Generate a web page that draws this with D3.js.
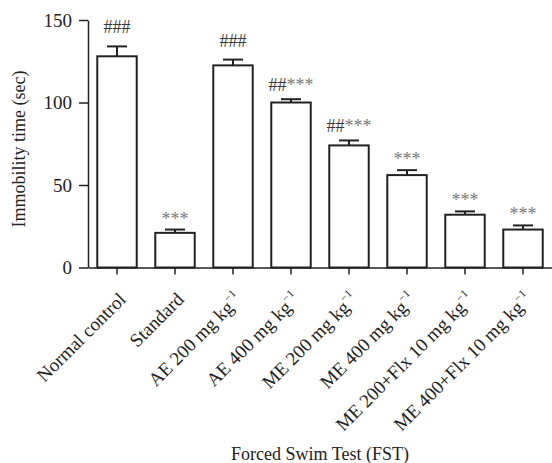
<!DOCTYPE html>
<html>
<head>
<meta charset="utf-8">
<script src="https://cdn.jsdelivr.net/npm/d3@7"></script>
<style>
  body { margin: 0; background: #fff; }
  text { font-family: "Liberation Serif", "Times New Roman", serif; }
</style>
</head>
<body>
<svg id="chart" width="552" height="463"></svg>
<script>
// groups on the x axis (sup = superscript after the name)
const groups = [
  { name: "Normal control", sup: "" },
  { name: "Standard", sup: "" },
  { name: "AE 200 mg kg", sup: "\u22121" },
  { name: "AE 400 mg kg", sup: "\u22121" },
  { name: "ME 200 mg kg", sup: "\u22121" },
  { name: "ME 400 mg kg", sup: "\u22121" },
  { name: "ME 200+Flx 10 mg kg", sup: "\u22121" },
  { name: "ME 400+Flx 10 mg kg", sup: "\u22121" }
]
const means = [128, 21, 122.5, 100, 74, 56, 32, 23]
const sems = [6, 2, 3.5, 2, 3, 3, 2, 2.5]
const marks = ["###", "***", "###", "##***", "##***", "***", "***", "***"]
const yTicks = [0, 50, 100, 150]

const svg = d3.select("#chart")
const plotLeft = 88, plotRight = 552, plotTop = 20, plotBottom = 267.5

const x = d3.scaleBand()
  .domain(groups.map(d => d.name))
  .range([plotLeft, plotRight])
  .paddingInner(0.32)
  .paddingOuter(0.16)

const y = d3.scaleLinear().domain([0, 150]).range([plotBottom, plotTop])

const ink = "#222"

// bars
svg.append("g").selectAll("rect")
  .data(groups)
  .join("rect")
  .attr("x", d => x(d.name))
  .attr("y", (d, i) => y(means[i]))
  .attr("width", x.bandwidth())
  .attr("height", (d, i) => y(0) - y(means[i]))
  .attr("fill", "#fff")
  .attr("stroke", ink)
  .attr("stroke-width", 2)

// error bars, upper half only
const err = svg.append("g").attr("stroke", ink).attr("stroke-width", 2)
groups.forEach((d, i) => {
  const cx = x(d.name) + x.bandwidth() / 2
  const hi = y(means[i] + sems[i])
  err.append("line").attr("x1", cx).attr("x2", cx).attr("y1", y(means[i])).attr("y2", hi)
  err.append("line").attr("x1", cx - 10).attr("x2", cx + 10).attr("y1", hi).attr("y2", hi)
})

// significance marks
groups.forEach((d, i) => {
  const m = marks[i]
  const cx = x(d.name) + x.bandwidth() / 2
  let gap = 8
  if (!m.includes("*")) gap = 13
  if (!m.includes("#")) gap = 5
  const t = svg.append("text")
    .attr("x", cx)
    .attr("y", y(means[i] + sems[i]) - gap)
    .attr("text-anchor", "middle")
    .attr("font-size", 18)
  const hashes = m.replace(/\*/g, "")
  const stars = m.replace(/#/g, "")
  if (hashes) t.append("tspan").attr("fill", "#3a3a3a").text(hashes)
  if (stars) t.append("tspan").attr("fill", "#7a7a7a").text(stars)
})

// y axis
const yAxis = svg.append("g")
  .attr("transform", `translate(${plotLeft},0)`)
  .call(d3.axisLeft(y).tickValues(yTicks).tickSize(9).tickPadding(7).tickSizeOuter(0))
yAxis.attr("font-family", null)
yAxis.select(".domain").attr("stroke", ink).attr("stroke-width", 1.5)
yAxis.selectAll(".tick line").attr("stroke", ink).attr("stroke-width", 1.5)
yAxis.selectAll(".tick text")
  .attr("font-size", 19)
  .attr("fill", "#222")

// x axis
const xAxis = svg.append("g")
  .attr("transform", `translate(0,${plotBottom})`)
  .call(d3.axisBottom(x).tickSize(7).tickSizeOuter(0))
xAxis.select(".domain").attr("stroke", ink).attr("stroke-width", 1.5)
xAxis.selectAll(".tick line").attr("stroke", ink).attr("stroke-width", 1.5)
xAxis.selectAll(".tick text").remove()

groups.forEach(d => {
  const cx = x(d.name) + x.bandwidth() / 2
  const t = svg.append("text")
    .attr("transform", `translate(${cx + 10},${plotBottom + 33}) rotate(-45)`)
    .attr("text-anchor", "end")
    .attr("font-size", 19)
    .attr("fill", "#222")
  t.append("tspan").text(d.name)
  if (d.sup) {
    t.append("tspan")
      .attr("font-size", 11)
      .attr("dy", -9)
      .text(d.sup)
  }
})

// axis titles
svg.append("text")
  .attr("transform", `translate(25,149) rotate(-90)`)
  .attr("text-anchor", "middle")
  .attr("font-size", 18)
  .attr("fill", "#222")
  .text("Immobility time (sec)")

svg.append("text")
  .attr("x", (plotLeft + plotRight) / 2)
  .attr("y", 460)
  .attr("text-anchor", "middle")
  .attr("font-size", 18)
  .attr("fill", "#222")
  .text("Forced Swim Test (FST)")
</script>
</body>
</html>
